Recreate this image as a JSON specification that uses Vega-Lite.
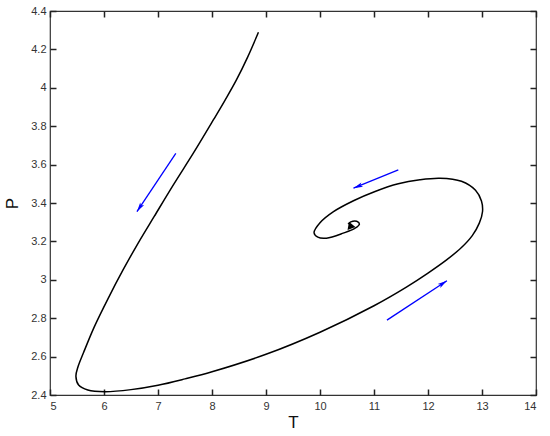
{
  "$schema": "https://vega.github.io/schema/vega-lite/v6.json",
  "width": 486,
  "height": 384,
  "autosize": {"type": "none"},
  "padding": {"left": 50, "top": 11, "right": 14, "bottom": 41},
  "background": "white",
  "config": {
    "view": {"stroke": "#333333", "strokeWidth": 1.2},
    "font": "Liberation Sans",
    "axis": {
      "grid": false,
      "domain": false,
      "ticks": true,
      "tickColor": "#222222",
      "tickWidth": 1.5,
      "tickSize": -6,
      "labelColor": "#333333",
      "labelFont": "Liberation Sans",
      "labelFontSize": 11,
      "titleFont": "Liberation Sans",
      "titleFontSize": 17,
      "titleFontWeight": "normal",
      "titleColor": "#111111"
    }
  },
  "datasets": {
    "curve": [
      {"i": 1, "T": 8.86, "P": 4.289},
      {"i": 2, "T": 8.66, "P": 4.16},
      {"i": 3, "T": 8.45, "P": 4.04},
      {"i": 4, "T": 8.24, "P": 3.935},
      {"i": 5, "T": 8.03, "P": 3.835},
      {"i": 6, "T": 7.66, "P": 3.662},
      {"i": 7, "T": 7.29, "P": 3.497},
      {"i": 8, "T": 6.93, "P": 3.33},
      {"i": 9, "T": 6.63, "P": 3.19},
      {"i": 10, "T": 6.35, "P": 3.05},
      {"i": 11, "T": 6.08, "P": 2.905},
      {"i": 12, "T": 5.82, "P": 2.755},
      {"i": 13, "T": 5.62, "P": 2.62},
      {"i": 14, "T": 5.52, "P": 2.548},
      {"i": 15, "T": 5.48, "P": 2.497},
      {"i": 16, "T": 5.53, "P": 2.452},
      {"i": 17, "T": 5.7, "P": 2.426},
      {"i": 18, "T": 6.02, "P": 2.417},
      {"i": 19, "T": 6.5, "P": 2.428},
      {"i": 20, "T": 7.0, "P": 2.451},
      {"i": 21, "T": 7.5, "P": 2.484},
      {"i": 22, "T": 8.0, "P": 2.521},
      {"i": 23, "T": 9.0, "P": 2.612},
      {"i": 24, "T": 10.0, "P": 2.727},
      {"i": 25, "T": 11.0, "P": 2.865},
      {"i": 26, "T": 11.6, "P": 2.962},
      {"i": 27, "T": 12.0, "P": 3.035},
      {"i": 28, "T": 12.35, "P": 3.105},
      {"i": 29, "T": 12.62, "P": 3.168},
      {"i": 30, "T": 12.82, "P": 3.23},
      {"i": 31, "T": 12.95, "P": 3.295},
      {"i": 32, "T": 13.01, "P": 3.356},
      {"i": 33, "T": 12.99, "P": 3.41},
      {"i": 34, "T": 12.88, "P": 3.466},
      {"i": 35, "T": 12.62, "P": 3.513},
      {"i": 36, "T": 12.22, "P": 3.529},
      {"i": 37, "T": 11.85, "P": 3.521},
      {"i": 38, "T": 11.45, "P": 3.5},
      {"i": 39, "T": 11.02, "P": 3.46},
      {"i": 40, "T": 10.63, "P": 3.413},
      {"i": 41, "T": 10.25, "P": 3.355},
      {"i": 42, "T": 10.0, "P": 3.297},
      {"i": 43, "T": 9.89, "P": 3.245},
      {"i": 44, "T": 9.96, "P": 3.222},
      {"i": 45, "T": 10.12, "P": 3.217},
      {"i": 46, "T": 10.43, "P": 3.243},
      {"i": 47, "T": 10.65, "P": 3.269},
      {"i": 48, "T": 10.73, "P": 3.291},
      {"i": 49, "T": 10.68, "P": 3.305},
      {"i": 50, "T": 10.57, "P": 3.302},
      {"i": 51, "T": 10.52, "P": 3.29}
    ],
    "arrows": [
      {"a": 1, "T0": 7.33, "P0": 3.659, "T1": 6.61, "P1": 3.355},
      {"a": 2, "T0": 11.45, "P0": 3.573, "T1": 10.62, "P1": 3.477},
      {"a": 3, "T0": 11.24, "P0": 2.79, "T1": 12.35, "P1": 2.995}
    ],
    "marker": [
      {"T": 10.56, "P": 3.285}
    ]
  },
  "layer": [
    {
      "data": {"name": "curve"},
      "mark": {"type": "line", "color": "black", "strokeWidth": 1.5, "interpolate": "catmull-rom"},
      "encoding": {
        "x": {"field": "T", "type": "quantitative", "scale": {"domain": [5, 14], "nice": false, "zero": false},
              "axis": {"title": "T", "values": [5,6,7,8,9,10,11,12,13,14], "orient": "bottom", "labelPadding": 11, "titlePadding": 3}},
        "y": {"field": "P", "type": "quantitative", "scale": {"domain": [2.4, 4.4], "nice": false, "zero": false},
              "axis": {"title": "P", "values": [2.4,2.6,2.8,3,3.2,3.4,3.6,3.8,4,4.2,4.4], "format": "~g", "orient": "left", "labelPadding": 10, "titlePadding": 9}},
        "order": {"field": "i", "type": "quantitative"}
      }
    },
    {
      "data": {"name": "arrows"},
      "mark": {"type": "rule", "color": "#0000ff", "strokeWidth": 1.3},
      "encoding": {
        "x": {"field": "T0", "type": "quantitative", "axis": null},
        "y": {"field": "P0", "type": "quantitative", "axis": null},
        "x2": {"field": "T1"},
        "y2": {"field": "P1"}
      }
    },
    {
      "data": {"name": "arrows"},
      "transform": [{"filter": "datum.a == 1"}],
      "mark": {"type": "point", "filled": true, "color": "#0000ff", "opacity": 1, "size": 110, "angle": 213.7,
               "shape": "M0,0L-0.45,1.8L0,1.4L0.45,1.8Z"},
      "encoding": {
        "x": {"field": "T1", "type": "quantitative", "axis": null},
        "y": {"field": "P1", "type": "quantitative", "axis": null}
      }
    },
    {
      "data": {"name": "arrows"},
      "transform": [{"filter": "datum.a == 2"}],
      "mark": {"type": "point", "filled": true, "color": "#0000ff", "opacity": 1, "size": 110, "angle": 247.8,
               "shape": "M0,0L-0.45,1.8L0,1.4L0.45,1.8Z"},
      "encoding": {
        "x": {"field": "T1", "type": "quantitative", "axis": null},
        "y": {"field": "P1", "type": "quantitative", "axis": null}
      }
    },
    {
      "data": {"name": "arrows"},
      "transform": [{"filter": "datum.a == 3"}],
      "mark": {"type": "point", "filled": true, "color": "#0000ff", "opacity": 1, "size": 110, "angle": 56.9,
               "shape": "M0,0L-0.45,1.8L0,1.4L0.45,1.8Z"},
      "encoding": {
        "x": {"field": "T1", "type": "quantitative", "axis": null},
        "y": {"field": "P1", "type": "quantitative", "axis": null}
      }
    },
    {
      "data": {"name": "marker"},
      "mark": {"type": "point", "filled": true, "color": "black", "opacity": 1, "size": 70, "shape": "triangle-up", "angle": -20},
      "encoding": {
        "x": {"field": "T", "type": "quantitative",
              "axis": {"orient": "top", "title": null, "labels": false, "values": [5,6,7,8,9,10,11,12,13,14]}},
        "y": {"field": "P", "type": "quantitative",
              "axis": {"orient": "right", "title": null, "labels": false, "values": [2.4,2.6,2.8,3,3.2,3.4,3.6,3.8,4,4.2,4.4]}}
      }
    }
  ],
  "resolve": {"axis": {"x": "independent", "y": "independent"}}
}
